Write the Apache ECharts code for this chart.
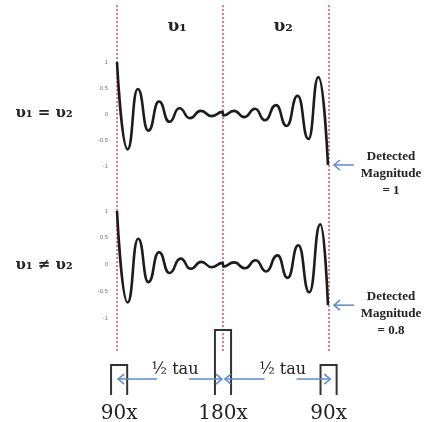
<!DOCTYPE html>
<html>
<head>
<meta charset="utf-8">
<script src="https://cdn.jsdelivr.net/npm/echarts@6/dist/echarts.min.js"></script>
<style>
  html, body { margin: 0; background: #fff; }
  #chart { width: 429px; height: 422px; }
</style>
</head>
<body>
<div id="chart"></div>
<script>
// time runs 0..1 : 0 = first 90x pulse, 0.5 = 180x pulse, 1 = second 90x pulse
const equalT = [0, 0.05, 0.098, 0.148, 0.198, 0.247, 0.294, 0.344, 0.395, 0.447, 0.499,
  0.501, 0.552, 0.601, 0.651, 0.698, 0.75, 0.8, 0.852, 0.903, 0.95, 0.995];
const equalV = [1, -0.68, 0.48, -0.32, 0.24, -0.15, 0.11, -0.08, 0.06, -0.04, 0.04,
  -0.03, 0.06, -0.06, 0.1, -0.12, 0.17, -0.23, 0.35, -0.48, 0.71, -0.98];

const unequalT = [0, 0.05, 0.1, 0.148, 0.198, 0.247, 0.3, 0.348, 0.397, 0.447, 0.499,
  0.501, 0.552, 0.604, 0.654, 0.703, 0.757, 0.805, 0.855, 0.907, 0.959, 0.995];
const unequalV = [1, -0.71, 0.48, -0.33, 0.23, -0.16, 0.11, -0.08, 0.05, -0.05, 0.03,
  -0.04, 0.04, -0.07, 0.08, -0.13, 0.17, -0.25, 0.36, -0.52, 0.75, -0.76];

const axisTicks = [-1, -0.5, 0, 0.5, 1];
const guideT = [0, 0.5, 1];
const pulseT = [0.01, 0.5, 0.998];
const pulseH = [1, 2.17, 1];
const pulseNames = ['90x', '180x', '90x'];
const tauSpans = [[0.005, 0.495], [0.509, 1.006]];

const chart = echarts.init(document.getElementById('chart'));

const RED = '#f0667a';
const BLUE = '#5b8bd0';
const SERIF = '"DejaVu Serif", "Liberation Serif", serif';

const zip = (a, b) => a.map((x, i) => [x, b[i]]);

// open chevron arrow head, dir = 1 points right, -1 points left
const chevron = (x, y, dir) => ({
  type: 'polyline',
  shape: { points: [[x - dir * 6, y - 5], [x, y], [x - dir * 6, y + 5]] },
  style: { stroke: BLUE, lineWidth: 1.5, fill: null }
});

const curveY = (gridIndex) => ({
  type: 'value', gridIndex, min: -1, max: 1, interval: 0.5,
  axisLine: { show: false }, axisTick: { show: false }, splitLine: { show: false },
  axisLabel: { fontSize: 6, color: '#777', margin: 9, fontFamily: 'Liberation Sans' }
});
const hiddenX = (gridIndex) => ({ type: 'value', gridIndex, min: 0, max: 1, show: false });

const curveSeries = (idx, data) => ({
  type: 'line', xAxisIndex: idx, yAxisIndex: idx, data,
  smooth: 0.55, smoothMonotone: 'x', symbol: 'none', z: 5,
  lineStyle: { color: '#1c1c1c', width: 2.6 }
});

// "Detected magnitude" arrow pointing at the last sample of a curve
const detectSeries = (idx, data) => ({
  type: 'custom', xAxisIndex: idx, yAxisIndex: idx, clip: false, z: 6,
  data: [data[data.length - 1]],
  renderItem: (params, api) => {
    const p = api.coord([api.value(0), api.value(1)]);
    const x = p[0] + 6, y = p[1];
    return { type: 'group', children: [
      { type: 'line', shape: { x1: x, y1: y, x2: x + 20, y2: y }, style: { stroke: BLUE, lineWidth: 1.5 } },
      chevron(x, y, -1)
    ] };
  }
});

const label = (text, x, y, font) => ({
  type: 'text', x, y,
  style: { text, font, fill: '#222', align: 'center', verticalAlign: 'middle', lineHeight: 17 }
});

chart.setOption({
  animation: false,
  grid: [
    { left: 117, right: 100, top: 62, height: 104 },
    { left: 117, right: 100, top: 211, height: 107 },
    { left: 117, right: 100, top: 330, bottom: 27 },
    { left: 117, right: 100, top: 5, bottom: 70 }
  ],
  xAxis: [hiddenX(0), hiddenX(1), hiddenX(2), hiddenX(3)],
  yAxis: [
    curveY(0),
    curveY(1),
    { type: 'value', gridIndex: 2, min: 0, max: 2.17, show: false },
    { type: 'value', gridIndex: 3, min: 0, max: 1, show: false }
  ],
  series: [
    {
      // red dotted boundaries
      type: 'custom', xAxisIndex: 3, yAxisIndex: 3, z: 1, clip: false,
      data: guideT.map(t => [t]),
      renderItem: (params, api) => {
        const a = api.coord([api.value(0), 1]);
        const b = api.coord([api.value(0), 0]);
        return { type: 'line', shape: { x1: a[0], y1: a[1], x2: b[0], y2: b[1] },
          style: { stroke: RED, lineWidth: 1.8, lineDash: [2, 2] } };
      }
    },
    curveSeries(0, zip(equalT, equalV)),
    curveSeries(1, zip(unequalT, unequalV)),
    detectSeries(0, zip(equalT, equalV)),
    detectSeries(1, zip(unequalT, unequalV)),
    {
      // pulses with their labels
      type: 'custom', xAxisIndex: 2, yAxisIndex: 2, z: 4, clip: false,
      data: zip(pulseT, pulseH),
      renderItem: (params, api) => {
        const t = api.value(0), h = api.value(1);
        const l = api.coord([t - 0.038, 0]);
        const r = api.coord([t + 0.038, h]);
        return { type: 'group', children: [
          { type: 'polyline',
            shape: { points: [[l[0], l[1]], [l[0], r[1]], [r[0], r[1]], [r[0], l[1]]] },
            style: { stroke: '#333', lineWidth: 2, fill: null } },
          { type: 'text', x: (l[0] + r[0]) / 2, y: l[1] + 19,
            style: { text: pulseNames[params.dataIndex], fill: '#222',
              font: '20px ' + SERIF, align: 'center', verticalAlign: 'middle' } }
        ] };
      }
    },
    {
      // half-tau spacing arrows
      type: 'custom', xAxisIndex: 2, yAxisIndex: 2, z: 5, clip: false,
      data: tauSpans,
      renderItem: (params, api) => {
        const a = api.coord([api.value(0), 0.53]);
        const b = api.coord([api.value(1), 0.53]);
        const y = a[1], mid = (a[0] + b[0]) / 2 + 3;
        return { type: 'group', children: [
          { type: 'line', shape: { x1: a[0], y1: y, x2: mid - 16, y2: y }, style: { stroke: BLUE, lineWidth: 1.5 } },
          { type: 'line', shape: { x1: mid + 16, y1: y, x2: b[0], y2: y }, style: { stroke: BLUE, lineWidth: 1.5 } },
          chevron(a[0], y, -1),
          chevron(b[0], y, 1),
          { type: 'text', x: mid + 2, y: y - 9,
            style: { text: '½ tau', fill: '#222', font: '16px ' + SERIF,
              align: 'center', verticalAlign: 'middle' } }
        ] };
      }
    }
  ],
  graphic: [
    label('υ₁', 177, 27, 'bold 17px ' + SERIF),
    label('υ₂', 283, 27, 'bold 17px ' + SERIF),
    label('υ₁ = υ₂', 44, 113, 'bold 15px ' + SERIF),
    label('υ₁ ≠ υ₂', 44, 265, 'bold 15px ' + SERIF),
    label('Detected\nMagnitude\n= 1', 391, 174, 'bold 13px "Liberation Serif", serif'),
    label('Detected\nMagnitude\n= 0.8', 391, 314, 'bold 13px "Liberation Serif", serif')
  ]
});
</script>
</body>
</html>
